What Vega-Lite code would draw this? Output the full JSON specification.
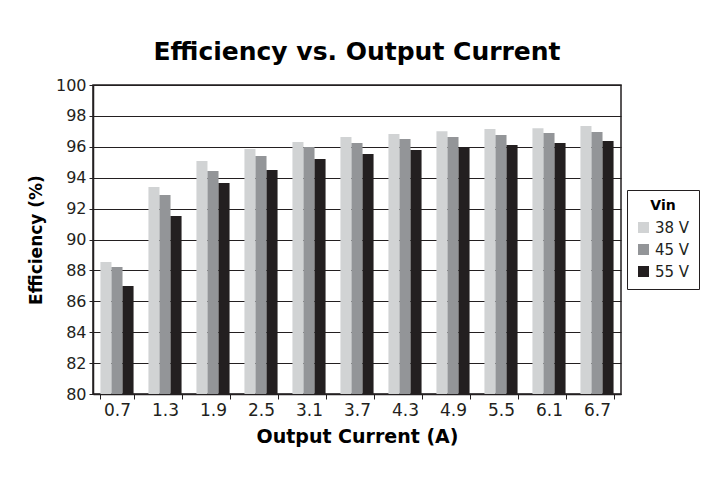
{
  "$schema": "https://vega.github.io/schema/vega-lite/v6.json",
  "width": 528,
  "height": 309,
  "autosize": {"type": "none"},
  "padding": {"left": 93, "top": 85, "right": 91, "bottom": 89},
  "background": "white",
  "title": {
    "text": "Efficiency vs. Output Current",
    "font": "DejaVu Sans",
    "fontSize": 25,
    "fontWeight": "bold",
    "color": "#000000",
    "anchor": "middle",
    "offset": 12
  },
  "data": {
    "values": [
      {"current": "0.7", "vin": "38 V", "eff": 88.54},
      {"current": "0.7", "vin": "45 V", "eff": 88.22},
      {"current": "0.7", "vin": "55 V", "eff": 86.99},
      {"current": "1.3", "vin": "38 V", "eff": 93.40},
      {"current": "1.3", "vin": "45 V", "eff": 92.88},
      {"current": "1.3", "vin": "55 V", "eff": 91.52},
      {"current": "1.9", "vin": "38 V", "eff": 95.08},
      {"current": "1.9", "vin": "45 V", "eff": 94.43},
      {"current": "1.9", "vin": "55 V", "eff": 93.66},
      {"current": "2.5", "vin": "38 V", "eff": 95.86},
      {"current": "2.5", "vin": "45 V", "eff": 95.40},
      {"current": "2.5", "vin": "55 V", "eff": 94.50},
      {"current": "3.1", "vin": "38 V", "eff": 96.31},
      {"current": "3.1", "vin": "45 V", "eff": 95.99},
      {"current": "3.1", "vin": "55 V", "eff": 95.21},
      {"current": "3.7", "vin": "38 V", "eff": 96.63},
      {"current": "3.7", "vin": "45 V", "eff": 96.25},
      {"current": "3.7", "vin": "55 V", "eff": 95.54},
      {"current": "4.3", "vin": "38 V", "eff": 96.83},
      {"current": "4.3", "vin": "45 V", "eff": 96.50},
      {"current": "4.3", "vin": "55 V", "eff": 95.80},
      {"current": "4.9", "vin": "38 V", "eff": 97.00},
      {"current": "4.9", "vin": "45 V", "eff": 96.63},
      {"current": "4.9", "vin": "55 V", "eff": 95.99},
      {"current": "5.5", "vin": "38 V", "eff": 97.15},
      {"current": "5.5", "vin": "45 V", "eff": 96.76},
      {"current": "5.5", "vin": "55 V", "eff": 96.12},
      {"current": "6.1", "vin": "38 V", "eff": 97.20},
      {"current": "6.1", "vin": "45 V", "eff": 96.89},
      {"current": "6.1", "vin": "55 V", "eff": 96.25},
      {"current": "6.7", "vin": "38 V", "eff": 97.35},
      {"current": "6.7", "vin": "45 V", "eff": 96.95},
      {"current": "6.7", "vin": "55 V", "eff": 96.38}
    ]
  },
  "mark": {"type": "bar", "stroke": null, "clip": true},
  "encoding": {
    "x": {
      "field": "current",
      "type": "nominal",
      "sort": null,
      "scale": {"paddingInner": 0.31, "paddingOuter": 0.155},
      "axis": {
        "title": "Output Current (A)",
        "labelAngle": 0,
        "labelFontSize": 17,
        "tickBand": "extent",
        "tickSize": 5,
        "labelPadding": 3,
        "titlePadding": 9,
        "titleFontSize": 19,
        "grid": false
      }
    },
    "xOffset": {"field": "vin", "type": "nominal", "sort": ["38 V", "45 V", "55 V"]},
    "y": {
      "field": "eff",
      "type": "quantitative",
      "scale": {"domain": [80, 100], "nice": false, "zero": false},
      "axis": {
        "title": "Efficiency (%)",
        "values": [80, 82, 84, 86, 88, 90, 92, 94, 96, 98, 100],
        "labelFontSize": 16,
        "tickSize": 4,
        "labelPadding": 3,
        "titlePadding": 10,
        "titleFontSize": 17,
        "grid": true
      }
    },
    "color": {
      "field": "vin",
      "type": "nominal",
      "title": "Vin",
      "scale": {"domain": ["38 V", "45 V", "55 V"], "range": ["#d1d3d4", "#939598", "#231f20"]},
      "legend": {
        "orient": "none",
        "legendX": 534,
        "legendY": 105,
        "symbolType": "square",
        "symbolSize": 121,
        "symbolStrokeWidth": 0,
        "strokeColor": "#231f20",
        "fillColor": "white",
        "padding": 9,
        "rowPadding": 6,
        "titleAnchor": "middle",
        "titlePadding": 7
      }
    }
  },
  "config": {
    "font": "DejaVu Sans",
    "view": {"stroke": "#231f20", "strokeWidth": 1.5},
    "axis": {
      "domainColor": "#231f20",
      "domainWidth": 1.5,
      "tickColor": "#231f20",
      "gridColor": "#231f20",
      "gridOpacity": 1,
      "gridWidth": 1.2,
      "labelFont": "DejaVu Sans",
      "labelColor": "#231f20",
      "titleFont": "DejaVu Sans",
      "titleFontWeight": "bold",
      "titleColor": "#000000"
    },
    "legend": {
      "titleFont": "DejaVu Sans",
      "titleFontSize": 14,
      "titleFontWeight": "bold",
      "titleColor": "#000000",
      "labelFont": "DejaVu Sans",
      "labelFontSize": 15,
      "labelColor": "#231f20"
    }
  }
}
